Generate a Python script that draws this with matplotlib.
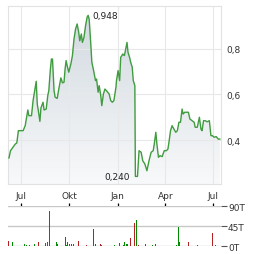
import numpy as np
import pandas as pd
import matplotlib
matplotlib.use("Agg")
import matplotlib.pyplot as plt
import matplotlib.dates as mdates
from matplotlib.colors import LinearSegmentedColormap
from matplotlib.patches import Polygon
from matplotlib.ticker import FuncFormatter

price_dates = [
    "2023-06-08", "2023-06-11", "2023-06-16", "2023-06-20", "2023-06-23", "2023-06-26",
    "2023-07-05", "2023-07-09", "2023-07-14", "2023-07-16", "2023-07-21", "2023-07-24",
    "2023-07-30", "2023-08-01", "2023-08-03", "2023-08-06", "2023-08-08", "2023-08-12",
    "2023-08-14", "2023-08-18", "2023-08-21", "2023-08-23", "2023-08-26", "2023-08-28",
    "2023-08-30", "2023-09-02", "2023-09-04", "2023-09-08", "2023-09-11", "2023-09-15",
    "2023-09-18", "2023-09-21", "2023-09-23", "2023-09-25", "2023-09-27", "2023-09-30",
    "2023-10-04", "2023-10-07", "2023-10-10", "2023-10-13", "2023-10-16", "2023-10-19",
    "2023-10-21", "2023-10-24", "2023-10-26", "2023-10-29", "2023-11-01", "2023-11-04",
    "2023-11-06", "2023-11-08", "2023-11-11", "2023-11-13", "2023-11-17", "2023-11-20",
    "2023-11-22", "2023-11-25", "2023-11-27", "2023-11-30", "2023-12-02", "2023-12-05",
    "2023-12-08", "2023-12-12", "2023-12-16", "2023-12-19", "2023-12-22", "2023-12-25",
    "2023-12-29", "2023-12-30", "2024-01-02", "2024-01-05", "2024-01-07", "2024-01-11",
    "2024-01-14", "2024-01-16", "2024-01-19", "2024-01-21", "2024-01-24", "2024-01-26",
    "2024-01-29", "2024-01-31", "2024-02-03", "2024-02-04", "2024-02-08", "2024-02-11",
    "2024-02-15", "2024-02-18", "2024-02-22", "2024-02-26", "2024-03-01", "2024-03-05",
    "2024-03-09", "2024-03-11", "2024-03-14", "2024-03-16", "2024-03-19", "2024-03-22",
    "2024-03-26", "2024-03-30", "2024-04-03", "2024-04-06", "2024-04-08", "2024-04-11",
    "2024-04-14", "2024-04-17", "2024-04-21", "2024-04-24", "2024-04-27", "2024-04-30",
    "2024-05-03", "2024-05-05", "2024-05-08", "2024-05-12", "2024-05-15", "2024-05-18",
    "2024-05-22", "2024-05-26", "2024-05-28", "2024-06-01", "2024-06-05", "2024-06-08",
    "2024-06-10", "2024-06-13", "2024-06-16", "2024-06-20", "2024-06-24", "2024-06-27",
    "2024-06-30", "2024-07-03", "2024-07-07", "2024-07-11", "2024-07-14",
]
price_values = [
    0.321, 0.353, 0.369, 0.382, 0.387, 0.441,
    0.441, 0.463, 0.532, 0.507, 0.507, 0.573,
    0.658, 0.558, 0.529, 0.482, 0.541, 0.566,
    0.532, 0.536, 0.595, 0.617, 0.712, 0.756,
    0.756, 0.617, 0.588, 0.583, 0.624, 0.673,
    0.651, 0.654, 0.712, 0.749, 0.727, 0.698,
    0.734, 0.771, 0.844, 0.888, 0.910, 0.873,
    0.836, 0.866, 0.829, 0.851, 0.902, 0.940,
    0.948, 0.930, 0.822, 0.742, 0.698, 0.661,
    0.668, 0.610, 0.639, 0.595, 0.551, 0.602,
    0.624, 0.614, 0.602, 0.573, 0.566, 0.573,
    0.632, 0.661, 0.705, 0.661, 0.763, 0.778,
    0.771, 0.793, 0.829, 0.785, 0.763, 0.742,
    0.720, 0.661, 0.639, 0.240, 0.240, 0.353,
    0.346, 0.309, 0.295, 0.265, 0.309, 0.346,
    0.353, 0.382, 0.434, 0.382, 0.324, 0.331,
    0.327, 0.353, 0.353, 0.360, 0.390, 0.441,
    0.463, 0.450, 0.434, 0.441, 0.478, 0.478,
    0.536, 0.514, 0.522, 0.522, 0.522, 0.492,
    0.485, 0.478, 0.456, 0.456, 0.500, 0.448,
    0.441, 0.485, 0.485, 0.480, 0.485, 0.419,
    0.419, 0.412, 0.415, 0.404, 0.404,
]

vol_dates = [
    "2023-06-07", "2023-06-14", "2023-07-07", "2023-07-12", "2023-07-18", "2023-07-26",
    "2023-08-03", "2023-08-16", "2023-08-21", "2023-08-24", "2023-09-06", "2023-09-08",
    "2023-09-23", "2023-09-25", "2023-09-28", "2023-10-02", "2023-10-06", "2023-10-09",
    "2023-10-18", "2023-11-03", "2023-11-16", "2023-11-20", "2023-11-30", "2023-12-02",
    "2023-12-27", "2024-01-04", "2024-01-12", "2024-01-14", "2024-01-18", "2024-01-19",
    "2024-01-26", "2024-02-03", "2024-02-07", "2024-02-10", "2024-02-24", "2024-03-08",
    "2024-03-14", "2024-04-23", "2024-04-26", "2024-04-28", "2024-05-15", "2024-06-01",
    "2024-06-30", "2024-07-05",
]
vol_values = [
    12, 10, 5, 3, 3, 5,
    10, 7.5, 9, 79, 10, 5,
    21, 2, 10, 5, 5, 5,
    12, 4, 39, 5, 5, 3,
    3, 7.5, 3, 10, 5, 5,
    19, 52, 59, 3, 5, 3,
    5, 3, 43, 10, 10, 3,
    30, 3,
]
vol_up = [
    0, 1, 1, 1, 1, 1,
    0, 1, 1, 1, 1, 1,
    0, 1, 1, 1, 1, 0,
    0, 0, 0, 0, 0, 1,
    1, 1, 0, 1, 1, 1,
    0, 0, 1, 0, 1, 1,
    0, 1, 1, 1, 0, 1,
    0, 1,
]

month_ticks = ["2023-07-01", "2023-10-01", "2024-01-01", "2024-04-01", "2024-07-01"]
month_labels = ["Jul", "Okt", "Jan", "Apr", "Jul"]
price_ticks = [0.4, 0.6, 0.8]
vol_ticks = [0, 45, 90]
vol_tick_labels = ["0T", "45T", "90T"]

plt.rcParams['font.family'] = ['DejaVu Sans']

W, H = 264, 255
fig = plt.figure(figsize=(W / 100, H / 100), dpi=100)
fig.patch.set_facecolor("white")

x = mdates.date2num(pd.to_datetime(price_dates))
y = np.array(price_values)
xt = mdates.date2num(pd.to_datetime(month_ticks))
x0 = mdates.date2num(pd.Timestamp("2023-07-01"))
xmin, xmax = x0 - 24.8, x0 + 381.2
ymin, ymax = 0.2066, 0.989

left, right = 8 / W, 221 / W
ax = fig.add_axes([left, 1 - 185 / H, right - left, 178 / H])
ax.set_xlim(xmin, xmax)
ax.set_ylim(ymin, ymax)
ax.set_facecolor("white")

# gradient fill under line
cmap = LinearSegmentedColormap.from_list("g", ["#f8f9fa", "#d0d8df"])
grad = np.linspace(0, 1, 256).reshape(-1, 1)
im = ax.imshow(grad, extent=[xmin, xmax, ymin, ymax], aspect="auto", origin="lower",
               cmap=cmap, zorder=0.5)
verts = np.vstack([np.column_stack([x, y]), [[x[-1], ymin], [x[0], ymin]]])
poly = Polygon(verts, closed=True, facecolor="none", edgecolor="none", transform=ax.transData)
ax.add_patch(poly)
im.set_clip_path(poly)

ax.plot(x, y, color="#3f9c3f", lw=1.0, zorder=3)

ax.set_xticks(xt)
ax.set_xticklabels(month_labels)
ax.set_yticks(price_ticks)
ax.yaxis.set_major_formatter(FuncFormatter(lambda v, p: f"{v:.1f}".replace(".", ",")))
ax.yaxis.tick_right()
ax.tick_params(axis="both", length=0, labelsize=6.5, colors="#333333")
ax.tick_params(axis="y", pad=4)
ax.tick_params(axis="x", pad=5)
ax.grid(True, color="#e8e8e8", lw=0.8, zorder=1)
for s in ax.spines.values():
    s.set_color("#e2e2e2")
    s.set_linewidth(0.8)

imax = int(np.argmax(y))
imin = int(np.argmin(y))
ax.annotate(f"{y[imax]:.3f}".replace(".", ","), (x[imax], y[imax]), xytext=(3, 0),
            textcoords="offset points", ha="left", va="center", fontsize=6.5, color="#222222")
ax.annotate(f"{y[imin]:.3f}".replace(".", ","), (x[imin], y[imin]), xytext=(-4, 0),
            textcoords="offset points", ha="right", va="center", fontsize=6.5, color="#222222")

# volume panel
ax2 = fig.add_axes([left, 1 - 247.3 / H, right - left, 40 / H])
ax2.set_xlim(xmin, xmax)
ax2.set_ylim(0, 90)
xv = mdates.date2num(pd.to_datetime(vol_dates))
colors = ["#008a00" if u else "#b22222" for u in vol_up]
ax2.bar(xv, vol_values, width=2.0, color=colors, zorder=3)
for s in ax2.spines.values():
    s.set_visible(False)
ax2.set_yticks(vol_ticks)
ax2.set_yticklabels(vol_tick_labels)
ax2.yaxis.tick_right()
ax2.tick_params(axis="y", length=4, width=0.8, color="#555555", labelsize=6.5,
                labelcolor="#333333", pad=1)
ax2.grid(True, axis="y", color="#c8c8c8", lw=1.0, zorder=1)
ax2.xaxis.tick_top()
ax2.set_xticks(xt)
ax2.tick_params(axis="x", direction="out", length=2.2, width=0.9, color="black",
                labeltop=False, labelbottom=False)

fig.savefig("out.png", dpi=100, facecolor="white")
